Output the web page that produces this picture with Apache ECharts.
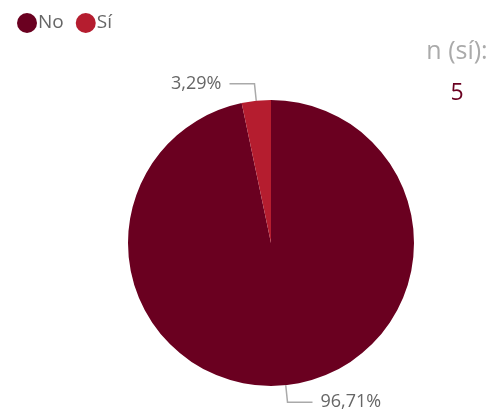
<!DOCTYPE html>
<html><head><meta charset="utf-8">
<script src="https://cdn.jsdelivr.net/npm/echarts@6/dist/echarts.min.js"></script>
<style>html,body{margin:0;padding:0;background:#fff}#c{width:495px;height:419px}</style>
</head><body><div id="c"></div>
<script>
const categories = ['No', 'Sí'];
const counts = [147, 5];
const colors = ['#6a0020', '#b51d2f'];
const nLabel = 'n (sí):';
const nValue = 5;

const chart = echarts.init(document.getElementById('c'));
const fmt = p => p.percent.toFixed(2).replace('.', ',') + '%';
chart.setOption({
  animation: false,
  textStyle: { fontFamily: 'Open Sans' },
  legend: {
    left: 12, top: 8, icon: 'circle', itemWidth: 20, itemHeight: 20, itemGap: 12,
    textStyle: { fontSize: 19, color: '#666', fontFamily: 'Open Sans', padding: [0, 0, 0, -4] },
    data: categories
  },
  graphic: [
    { type: 'text', style: { x: 457, y: 52, text: nLabel, fill: '#aaa', fontSize: 25, fontFamily: 'Open Sans', textAlign: 'center', textVerticalAlign: 'middle' } },
    { type: 'text', style: { x: 457, y: 93, text: String(nValue), fill: '#6a0020', fontSize: 23, fontFamily: 'Open Sans', textAlign: 'center', textVerticalAlign: 'middle' } }
  ],
  series: [{
    type: 'pie',
    center: [271, 243],
    radius: [0, 143],
    startAngle: 90,
    clockwise: true,
    data: categories.map((c, i) => ({ name: c, value: counts[i], itemStyle: { color: colors[i] } })),
    label: { formatter: fmt, color: '#666', fontSize: 18, fontFamily: 'Open Sans', distanceToLabelLine: 8 },
    labelLine: { length: 17, length2: 25, lineStyle: { color: '#aaa', width: 1.5 } },
    itemStyle: { borderWidth: 0 }
  }]
});
</script></body></html>
